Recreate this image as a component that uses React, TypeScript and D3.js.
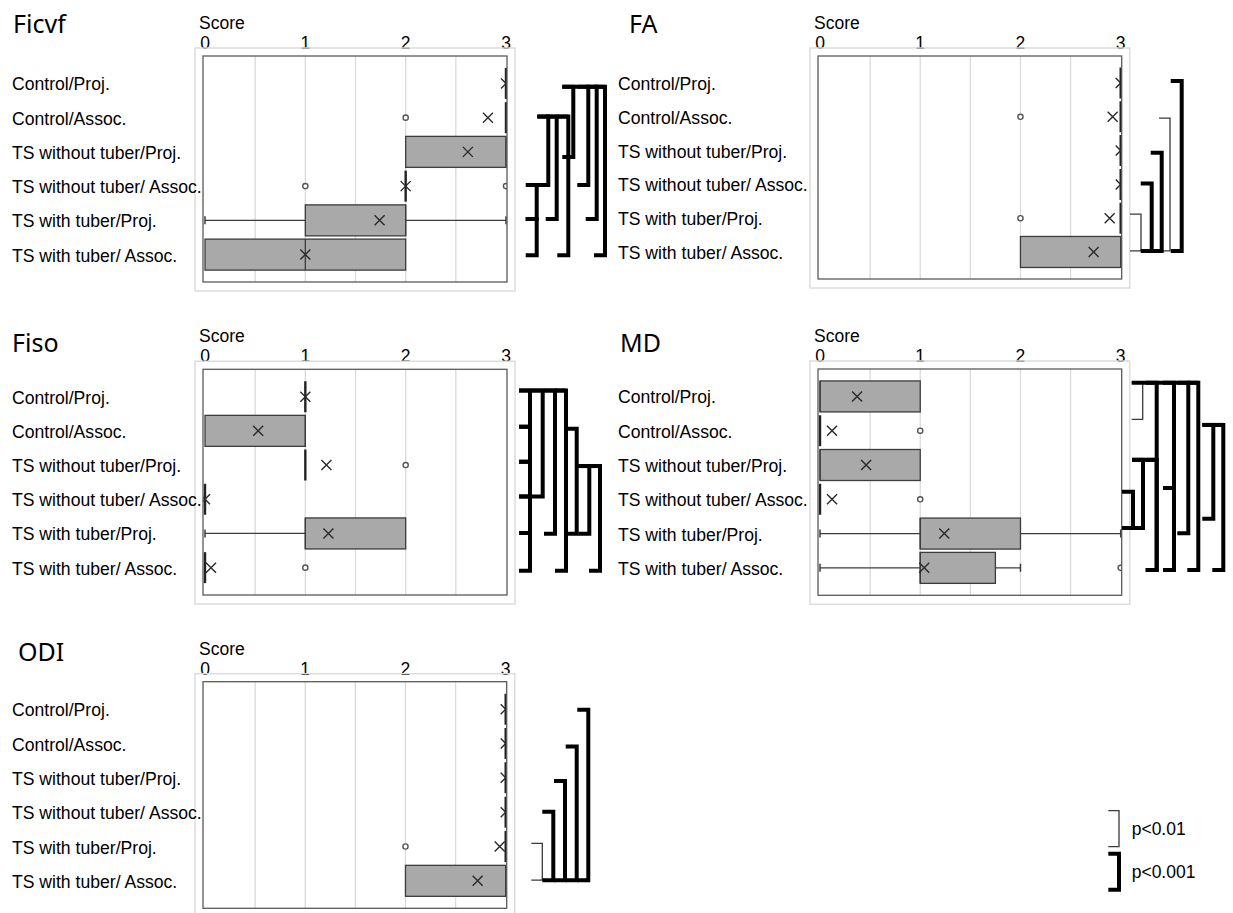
import React from "react";
import * as d3 from "d3";

const categories = [
  "Control/Proj.",
  "Control/Assoc.",
  "TS without tuber/Proj.",
  "TS without tuber/ Assoc.",
  "TS with tuber/Proj.",
  "TS with tuber/ Assoc.",
];
const scoreTicks = [0, 1, 2, 3];
const gridValues = [0.5, 1, 1.5, 2, 2.5];

// box stats per row: [min, q1, median, q3, max]
const ficvfBoxes = [[3, 3, 3, 3, 3], [3, 3, 3, 3, 3], [2, 2, 3, 3, 3], [2, 2, 2, 2, 2], [0, 1, 2, 2, 3], [0, 0, 1, 2, 2]];
const ficvfMeans = [3, 2.82, 2.62, 2.0, 1.74, 1.0];
const ficvfOutliers = [[], [2], [], [1, 3], [], []];
// brackets: a/b = row positions (0 = first category), l = bracket column, s = significance
const ficvfBrackets = [
  { a: 2.97, b: 3.96, l: 3.07, s: "p001" },
  { a: 3.96, b: 5.02, l: 3.07, s: "p001" },
  { a: 0.97, b: 2.97, l: 4.23, s: "p001" },
  { a: 0.97, b: 3.96, l: 5.07, s: "p001" },
  { a: 0.97, b: 5.02, l: 6.23, s: "p001" },
  { a: 0.1, b: 2.15, l: 6.73, s: "p001" },
  { a: 0.1, b: 2.97, l: 8.23, s: "p001" },
  { a: 0.1, b: 3.96, l: 9.07, s: "p001" },
  { a: 0.1, b: 5.02, l: 9.9, s: "p001" },
];

const faBoxes = [[3, 3, 3, 3, 3], [3, 3, 3, 3, 3], [3, 3, 3, 3, 3], [3, 3, 3, 3, 3], [3, 3, 3, 3, 3], [2, 2, 3, 3, 3]];
const faMeans = [3, 2.92, 3, 3, 2.89, 2.73];
const faOutliers = [[], [2], [], [], [2], []];
const faBrackets = [
  { a: 3.88, b: 4.97, l: 2.03, s: "p01" },
  { a: 1.04, b: 4.97, l: 4.93, s: "p01" },
  { a: 2.97, b: 4.97, l: 3.1, s: "p001" },
  { a: 2.06, b: 4.97, l: 4.1, s: "p001" },
  { a: -0.06, b: 4.97, l: 6.1, s: "p001" },
];

const fisoBoxes = [[1, 1, 1, 1, 1], [0, 0, 1, 1, 1], [1, 1, 1, 1, 1], [0, 0, 0, 0, 0], [0, 1, 1, 2, 2], [0, 0, 0, 0, 0]];
const fisoMeans = [1.0, 0.53, 1.21, 0.0, 1.23, 0.06];
const fisoOutliers = [[], [], [2], [], [], [1]];
const fisoBrackets = [
  { a: -0.18, b: 0.88, l: 2.4, s: "p001" },
  { a: 0.88, b: 1.9, l: 2.4, s: "p001" },
  { a: 1.9, b: 2.92, l: 2.4, s: "p001" },
  { a: 2.92, b: 3.99, l: 2.4, s: "p001" },
  { a: 3.99, b: 5.09, l: 2.4, s: "p001" },
  { a: -0.18, b: 2.92, l: 3.67, s: "p001" },
  { a: -0.18, b: 4.01, l: 4.9, s: "p001" },
  { a: -0.18, b: 5.09, l: 6.0, s: "p001" },
  { a: 0.94, b: 4.01, l: 7.07, s: "p001" },
  { a: 2.03, b: 4.01, l: 8.33, s: "p001" },
  { a: 2.03, b: 5.09, l: 9.4, s: "p001" },
];

const mdBoxes = [[0, 0, 0, 1, 1], [0, 0, 0, 0, 0], [0, 0, 0, 1, 1], [0, 0, 0, 0, 0], [0, 1, 1, 2, 3], [0, 1, 1, 1.75, 2]];
const mdMeans = [0.37, 0.12, 0.46, 0.12, 1.24, 1.04];
const mdOutliers = [[], [1], [], [1], [], [3]];
const mdBrackets = [
  { a: -0.4, b: 0.67, l: 2.2, s: "p01" },
  { a: 2.78, b: 3.84, l: 1.23, s: "p001" },
  { a: 1.85, b: 3.84, l: 2.23, s: "p001" },
  { a: 1.85, b: 5.06, l: 3.6, s: "p001" },
  { a: -0.4, b: 5.06, l: 3.6, s: "p001" },
  { a: -0.4, b: 5.06, l: 5.33, s: "p001" },
  { a: 2.67, b: 5.06, l: 5.33, s: "p001" },
  { a: -0.4, b: 3.99, l: 6.76, s: "p001" },
  { a: -0.4, b: 5.06, l: 7.76, s: "p001" },
  { a: 0.83, b: 3.57, l: 9.26, s: "p001" },
  { a: 0.83, b: 5.06, l: 10.26, s: "p001" },
];

const odiBoxes = [[3, 3, 3, 3, 3], [3, 3, 3, 3, 3], [3, 3, 3, 3, 3], [3, 3, 3, 3, 3], [3, 3, 3, 3, 3], [2, 2, 3, 3, 3]];
const odiMeans = [3, 3, 3, 3, 2.94, 2.72];
const odiOutliers = [[], [], [], [], [2], []];
const odiBrackets = [
  { a: 3.91, b: 4.98, l: 3.66, s: "p01" },
  { a: 2.99, b: 4.98, l: 4.76, s: "p001" },
  { a: 2.09, b: 4.98, l: 5.93, s: "p001" },
  { a: 1.09, b: 4.98, l: 7.1, s: "p001" },
  { a: 0.02, b: 4.98, l: 8.26, s: "p001" },
];

const legendItems = [
  { s: "p01", label: "p<0.01" },
  { s: "p001", label: "p<0.001" },
];

const panels = [
  { title: "Ficvf", boxes: ficvfBoxes, means: ficvfMeans, outliers: ficvfOutliers, brackets: ficvfBrackets,
    x0: 205, x3: 506, top: 56, bottom: 282, titleX: 13, titleY: 33, labelX: 12 },
  { title: "FA", boxes: faBoxes, means: faMeans, outliers: faOutliers, brackets: faBrackets,
    x0: 820, x3: 1120.7, top: 56, bottom: 279, titleX: 629, titleY: 33, labelX: 618 },
  { title: "Fiso", boxes: fisoBoxes, means: fisoMeans, outliers: fisoOutliers, brackets: fisoBrackets,
    x0: 205, x3: 506, top: 369.3, bottom: 595, titleX: 12, titleY: 352, labelX: 12 },
  { title: "MD", boxes: mdBoxes, means: mdMeans, outliers: mdOutliers, brackets: mdBrackets,
    x0: 820, x3: 1120.7, top: 369, bottom: 595.3, titleX: 620, titleY: 352, labelX: 618 },
  { title: "ODI", boxes: odiBoxes, means: odiMeans, outliers: odiOutliers, brackets: odiBrackets,
    x0: 205, x3: 505.7, top: 681.7, bottom: 908.3, titleX: 18, titleY: 661, labelX: 12 },
];

const FONT = "'Liberation Sans', Arial, sans-serif";
const TITLE_FONT = "'Noto Sans', 'Open Sans', sans-serif";
const FOOT = 11;
const BOX_H = 31;
const strokeFor = (s: string) => (s === "p001" ? { w: 4, c: "#000" } : { w: 1.3, c: "#3a3a3a" });

function Panel({ p, idx }: { p: any; idx: number }) {
  const x = d3.scaleLinear().domain([0, 3]).range([p.x0, p.x3]);
  const y = d3.scalePoint<string>().domain(categories).range([p.top, p.bottom]).padding(0.8);
  const rowY = d3.scaleLinear().domain([0, categories.length - 1]).range([y(categories[0])!, y(categories[categories.length - 1])!]);
  const bx = d3.scaleLinear().domain([0, 10]).range([x(3), x(3) + 100]);
  const left = x(0) - 2;
  const right = x(3) + 1;
  const clipId = `clip-${idx}`;
  const half = BOX_H / 2;

  // merged top lines for brackets that share a starting row
  const groups = d3.groups(p.brackets as any[], (d: any) => d.a).filter(([, g]) => g.length > 1);

  return (
    <g>
      <text x={p.titleX} y={p.titleY} fontFamily={TITLE_FONT} fontSize={25} fill="#000">{p.title}</text>
      <text x={x(0) - 6} y={p.top - 27} fontFamily={FONT} fontSize={17.5} fill="#000">Score</text>
      {scoreTicks.map((t) => (
        <text key={t} x={x(t)} y={p.top - 7} textAnchor="middle" fontFamily={FONT} fontSize={17.5} fill="#000">{t}</text>
      ))}
      <rect x={left - 8} y={p.top - 8} width={right - left + 16} height={p.bottom - p.top + 17} fill="none" stroke="#dcdcdc" strokeWidth={1.5} />
      <clipPath id={clipId}>
        <rect x={left} y={p.top} width={right - left} height={p.bottom - p.top} />
      </clipPath>
      {gridValues.map((g) => (
        <line key={g} x1={x(g)} x2={x(g)} y1={p.top} y2={p.bottom} stroke="#dadada" strokeWidth={1.3} />
      ))}
      <g clipPath={`url(#${clipId})`}>
        {categories.map((c, i) => {
          const cy = y(c)!;
          const [mn, q1, md, q3, mx] = p.boxes[i];
          const mean = p.means[i];
          return (
            <g key={c}>
              {mn < q1 && <line x1={x(mn)} x2={x(q1)} y1={cy} y2={cy} stroke="#3c3c3c" strokeWidth={1.3} />}
              {mn < q1 && <line x1={x(mn)} x2={x(mn)} y1={cy - 4} y2={cy + 4} stroke="#3c3c3c" strokeWidth={1.5} />}
              {mx > q3 && <line x1={x(q3)} x2={x(mx)} y1={cy} y2={cy} stroke="#3c3c3c" strokeWidth={1.3} />}
              {mx > q3 && <line x1={x(mx)} x2={x(mx)} y1={cy - 4} y2={cy + 4} stroke="#3c3c3c" strokeWidth={1.5} />}
              {q3 > q1 ? (
                <g>
                  <rect x={x(q1)} y={cy - half} width={x(q3) - x(q1)} height={BOX_H} fill="#a9a9a9" stroke="#3c3c3c" strokeWidth={1.3} />
                  <line x1={x(md)} x2={x(md)} y1={cy - half} y2={cy + half} stroke="#3c3c3c" strokeWidth={1.3} />
                </g>
              ) : (
                <line x1={x(q1)} x2={x(q1)} y1={cy - half} y2={cy + half} stroke="#222" strokeWidth={2.4} />
              )}
              {p.outliers[i].map((o: number, k: number) => (
                <circle key={k} cx={x(o)} cy={cy} r={2.6} fill="#fff" stroke="#555" strokeWidth={1.4} />
              ))}
              <path d={`M${x(mean) - 5},${cy - 5}L${x(mean) + 5},${cy + 5}M${x(mean) - 5},${cy + 5}L${x(mean) + 5},${cy - 5}`} stroke="#2a2a2a" strokeWidth={1.4} fill="none" />
            </g>
          );
        })}
      </g>
      <rect x={left} y={p.top} width={right - left} height={p.bottom - p.top} fill="none" stroke="#5a5a5a" strokeWidth={1.3} />
      {categories.map((c) => (
        <text key={c} x={p.labelX} y={y(c)! + 7} fontFamily={FONT} fontSize={17.6} fill="#000">{c}</text>
      ))}
      {/* brackets */}
      {[...p.brackets].sort((u: any, v: any) => (u.s === v.s ? 0 : u.s === "p01" ? -1 : 1)).map((b: any, k: number) => {
        const st = strokeFor(b.s);
        const bxv = bx(b.l);
        return (
          <path key={k} d={`M${bxv - FOOT},${rowY(b.a)}H${bxv}V${rowY(b.b)}H${bxv - FOOT}`} fill="none" stroke={st.c} strokeWidth={st.w} strokeLinejoin="miter" />
        );
      })}
      {groups.map(([a, g]) => {
        const xs = g.map((b: any) => bx(b.l));
        const thick = g.some((b: any) => b.s === "p001");
        const st = strokeFor(thick ? "p001" : "p01");
        return (
          <line key={String(a)} x1={d3.min(xs)! - FOOT} x2={d3.max(xs)!} y1={rowY(a as number)} y2={rowY(a as number)} stroke={st.c} strokeWidth={st.w} />
        );
      })}
    </g>
  );
}

export default function App() {
  const legendX = d3.scaleLinear().domain([0, 1]).range([1108.3, 1119]);
  const legendY = d3.scalePoint<string>().domain(legendItems.map((d) => d.s)).range([828.7, 871.7]);
  return (
    <svg width={1233} height={913} style={{ position: "absolute", left: 0, top: 0, background: "#fff" }}>
      <rect width={1233} height={913} fill="#fff" />
      {panels.map((p, i) => (
        <Panel key={p.title} p={p} idx={i} />
      ))}
      {legendItems.map((d) => {
        const st = strokeFor(d.s);
        const cy = legendY(d.s)!;
        return (
          <g key={d.s}>
            <path d={`M${legendX(0)},${cy - 18}H${legendX(1)}V${cy + 18}H${legendX(0)}`} fill="none" stroke={st.c} strokeWidth={st.w} />
            <text x={1131.7} y={cy + 6} fontFamily={FONT} fontSize={17.5} fill="#000">{d.label}</text>
          </g>
        );
      })}
    </svg>
  );
}
